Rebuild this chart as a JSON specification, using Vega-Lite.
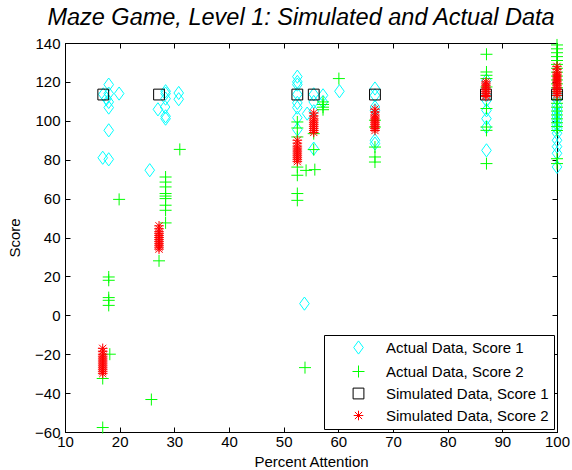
{
  "$schema": "https://vega.github.io/schema/vega-lite/v6.json",
  "width": 492,
  "height": 389,
  "autosize": {"type": "none"},
  "padding": {"left": 65, "top": 43, "right": 15, "bottom": 38},
  "background": "white",
  "title": {
    "text": "Maze Game, Level 1: Simulated and Actual Data",
    "font": "Liberation Sans",
    "fontSize": 23.5,
    "fontStyle": "italic",
    "fontWeight": "normal",
    "color": "black",
    "anchor": "middle",
    "dx": -10,
    "offset": 7
  },
  "config": {
    "view": {"stroke": "black", "strokeWidth": 1},
    "axis": {
      "grid": false,
      "domainColor": "black",
      "tickColor": "black",
      "tickSize": -5,
      "labelColor": "black",
      "labelFont": "Liberation Sans",
      "labelFontSize": 15,
      "titleFont": "Liberation Sans",
      "titleFontSize": 15,
      "titleFontWeight": "normal",
      "titleColor": "black",
      "labelFlush": false,
      "labelOverlap": false
    }
  },
  "data": {
    "values": [
      {"attention": 18.0, "score": 118.6, "series": "Actual Data, Score 1"},
      {"attention": 17.0, "score": 113.6, "series": "Actual Data, Score 1"},
      {"attention": 18.0, "score": 114.0, "series": "Actual Data, Score 1"},
      {"attention": 19.9, "score": 114.0, "series": "Actual Data, Score 1"},
      {"attention": 17.6, "score": 111.4, "series": "Actual Data, Score 1"},
      {"attention": 18.0, "score": 109.7, "series": "Actual Data, Score 1"},
      {"attention": 18.0, "score": 106.8, "series": "Actual Data, Score 1"},
      {"attention": 18.0, "score": 95.1, "series": "Actual Data, Score 1"},
      {"attention": 16.9, "score": 81.0, "series": "Actual Data, Score 1"},
      {"attention": 18.0, "score": 80.2, "series": "Actual Data, Score 1"},
      {"attention": 25.5, "score": 74.6, "series": "Actual Data, Score 1"},
      {"attention": 28.4, "score": 115.2, "series": "Actual Data, Score 1"},
      {"attention": 28.4, "score": 114.0, "series": "Actual Data, Score 1"},
      {"attention": 28.4, "score": 111.4, "series": "Actual Data, Score 1"},
      {"attention": 28.3, "score": 107.1, "series": "Actual Data, Score 1"},
      {"attention": 27.0, "score": 105.9, "series": "Actual Data, Score 1"},
      {"attention": 28.4, "score": 102.3, "series": "Actual Data, Score 1"},
      {"attention": 28.4, "score": 101.1, "series": "Actual Data, Score 1"},
      {"attention": 30.8, "score": 114.3, "series": "Actual Data, Score 1"},
      {"attention": 30.8, "score": 111.1, "series": "Actual Data, Score 1"},
      {"attention": 52.5, "score": 122.7, "series": "Actual Data, Score 1"},
      {"attention": 52.5, "score": 120.0, "series": "Actual Data, Score 1"},
      {"attention": 52.5, "score": 118.6, "series": "Actual Data, Score 1"},
      {"attention": 52.5, "score": 113.6, "series": "Actual Data, Score 1"},
      {"attention": 52.5, "score": 109.2, "series": "Actual Data, Score 1"},
      {"attention": 52.5, "score": 106.8, "series": "Actual Data, Score 1"},
      {"attention": 52.5, "score": 101.6, "series": "Actual Data, Score 1"},
      {"attention": 52.5, "score": 95.5, "series": "Actual Data, Score 1"},
      {"attention": 55.5, "score": 113.6, "series": "Actual Data, Score 1"},
      {"attention": 55.5, "score": 109.7, "series": "Actual Data, Score 1"},
      {"attention": 55.5, "score": 104.9, "series": "Actual Data, Score 1"},
      {"attention": 55.5, "score": 85.7, "series": "Actual Data, Score 1"},
      {"attention": 54.3, "score": 103.7, "series": "Actual Data, Score 1"},
      {"attention": 57.2, "score": 113.1, "series": "Actual Data, Score 1"},
      {"attention": 57.2, "score": 109.7, "series": "Actual Data, Score 1"},
      {"attention": 60.2, "score": 115.2, "series": "Actual Data, Score 1"},
      {"attention": 53.8, "score": 6.0, "series": "Actual Data, Score 1"},
      {"attention": 66.7, "score": 116.6, "series": "Actual Data, Score 1"},
      {"attention": 66.7, "score": 113.1, "series": "Actual Data, Score 1"},
      {"attention": 66.7, "score": 107.1, "series": "Actual Data, Score 1"},
      {"attention": 66.7, "score": 105.4, "series": "Actual Data, Score 1"},
      {"attention": 66.7, "score": 90.0, "series": "Actual Data, Score 1"},
      {"attention": 66.7, "score": 88.3, "series": "Actual Data, Score 1"},
      {"attention": 87.1, "score": 120.8, "series": "Actual Data, Score 1"},
      {"attention": 87.1, "score": 113.1, "series": "Actual Data, Score 1"},
      {"attention": 87.1, "score": 110.5, "series": "Actual Data, Score 1"},
      {"attention": 87.1, "score": 105.4, "series": "Actual Data, Score 1"},
      {"attention": 87.1, "score": 101.1, "series": "Actual Data, Score 1"},
      {"attention": 87.1, "score": 96.8, "series": "Actual Data, Score 1"},
      {"attention": 87.1, "score": 84.8, "series": "Actual Data, Score 1"},
      {"attention": 100, "score": 114.0, "series": "Actual Data, Score 1"},
      {"attention": 100, "score": 111.0, "series": "Actual Data, Score 1"},
      {"attention": 100, "score": 108.0, "series": "Actual Data, Score 1"},
      {"attention": 100, "score": 106.0, "series": "Actual Data, Score 1"},
      {"attention": 100, "score": 104.0, "series": "Actual Data, Score 1"},
      {"attention": 100, "score": 102.0, "series": "Actual Data, Score 1"},
      {"attention": 100, "score": 100.0, "series": "Actual Data, Score 1"},
      {"attention": 100, "score": 98.0, "series": "Actual Data, Score 1"},
      {"attention": 100, "score": 96.0, "series": "Actual Data, Score 1"},
      {"attention": 100, "score": 93.6, "series": "Actual Data, Score 1"},
      {"attention": 100, "score": 90.0, "series": "Actual Data, Score 1"},
      {"attention": 100, "score": 86.7, "series": "Actual Data, Score 1"},
      {"attention": 100, "score": 83.3, "series": "Actual Data, Score 1"},
      {"attention": 100, "score": 76.3, "series": "Actual Data, Score 1"},

      {"attention": 18.0, "score": 19.7, "series": "Actual Data, Score 2"},
      {"attention": 18.0, "score": 18.0, "series": "Actual Data, Score 2"},
      {"attention": 18.0, "score": 9.1, "series": "Actual Data, Score 2"},
      {"attention": 18.0, "score": 7.7, "series": "Actual Data, Score 2"},
      {"attention": 18.0, "score": 5.1, "series": "Actual Data, Score 2"},
      {"attention": 18.2, "score": -20.0, "series": "Actual Data, Score 2"},
      {"attention": 16.9, "score": -32.5, "series": "Actual Data, Score 2"},
      {"attention": 16.9, "score": -57.7, "series": "Actual Data, Score 2"},
      {"attention": 25.8, "score": -43.3, "series": "Actual Data, Score 2"},
      {"attention": 19.9, "score": 59.6, "series": "Actual Data, Score 2"},
      {"attention": 28.4, "score": 71.1, "series": "Actual Data, Score 2"},
      {"attention": 28.4, "score": 68.5, "series": "Actual Data, Score 2"},
      {"attention": 28.4, "score": 66.0, "series": "Actual Data, Score 2"},
      {"attention": 28.4, "score": 62.6, "series": "Actual Data, Score 2"},
      {"attention": 28.4, "score": 61.3, "series": "Actual Data, Score 2"},
      {"attention": 28.4, "score": 60.0, "series": "Actual Data, Score 2"},
      {"attention": 28.4, "score": 56.6, "series": "Actual Data, Score 2"},
      {"attention": 28.4, "score": 54.0, "series": "Actual Data, Score 2"},
      {"attention": 28.4, "score": 47.5, "series": "Actual Data, Score 2"},
      {"attention": 27.2, "score": 28.0, "series": "Actual Data, Score 2"},
      {"attention": 31.0, "score": 85.3, "series": "Actual Data, Score 2"},
      {"attention": 52.5, "score": 99.4, "series": "Actual Data, Score 2"},
      {"attention": 52.5, "score": 96.3, "series": "Actual Data, Score 2"},
      {"attention": 52.5, "score": 91.7, "series": "Actual Data, Score 2"},
      {"attention": 52.5, "score": 76.2, "series": "Actual Data, Score 2"},
      {"attention": 52.5, "score": 72.0, "series": "Actual Data, Score 2"},
      {"attention": 52.5, "score": 62.6, "series": "Actual Data, Score 2"},
      {"attention": 52.5, "score": 59.1, "series": "Actual Data, Score 2"},
      {"attention": 55.5, "score": 93.4, "series": "Actual Data, Score 2"},
      {"attention": 55.5, "score": 85.2, "series": "Actual Data, Score 2"},
      {"attention": 54.1, "score": 74.5, "series": "Actual Data, Score 2"},
      {"attention": 55.7, "score": 74.9, "series": "Actual Data, Score 2"},
      {"attention": 53.9, "score": -26.9, "series": "Actual Data, Score 2"},
      {"attention": 57.2, "score": 109.7, "series": "Actual Data, Score 2"},
      {"attention": 57.2, "score": 108.4, "series": "Actual Data, Score 2"},
      {"attention": 57.2, "score": 107.0, "series": "Actual Data, Score 2"},
      {"attention": 57.2, "score": 105.7, "series": "Actual Data, Score 2"},
      {"attention": 60.1, "score": 121.7, "series": "Actual Data, Score 2"},
      {"attention": 66.7, "score": 100.3, "series": "Actual Data, Score 2"},
      {"attention": 66.7, "score": 96.8, "series": "Actual Data, Score 2"},
      {"attention": 66.7, "score": 86.5, "series": "Actual Data, Score 2"},
      {"attention": 66.7, "score": 81.4, "series": "Actual Data, Score 2"},
      {"attention": 66.7, "score": 78.8, "series": "Actual Data, Score 2"},
      {"attention": 87.1, "score": 134.2, "series": "Actual Data, Score 2"},
      {"attention": 87.1, "score": 125.1, "series": "Actual Data, Score 2"},
      {"attention": 87.1, "score": 123.4, "series": "Actual Data, Score 2"},
      {"attention": 87.1, "score": 121.7, "series": "Actual Data, Score 2"},
      {"attention": 87.1, "score": 117.4, "series": "Actual Data, Score 2"},
      {"attention": 87.1, "score": 106.3, "series": "Actual Data, Score 2"},
      {"attention": 87.1, "score": 96.8, "series": "Actual Data, Score 2"},
      {"attention": 87.1, "score": 95.1, "series": "Actual Data, Score 2"},
      {"attention": 87.1, "score": 78.0, "series": "Actual Data, Score 2"},
      {"attention": 100, "score": 139.0, "series": "Actual Data, Score 2"},
      {"attention": 100, "score": 137.0, "series": "Actual Data, Score 2"},
      {"attention": 100, "score": 135.0, "series": "Actual Data, Score 2"},
      {"attention": 100, "score": 133.0, "series": "Actual Data, Score 2"},
      {"attention": 100, "score": 131.0, "series": "Actual Data, Score 2"},
      {"attention": 100, "score": 129.0, "series": "Actual Data, Score 2"},
      {"attention": 100, "score": 127.0, "series": "Actual Data, Score 2"},
      {"attention": 100, "score": 125.0, "series": "Actual Data, Score 2"},
      {"attention": 100, "score": 123.0, "series": "Actual Data, Score 2"},
      {"attention": 100, "score": 121.0, "series": "Actual Data, Score 2"},
      {"attention": 100, "score": 119.0, "series": "Actual Data, Score 2"},
      {"attention": 100, "score": 117.0, "series": "Actual Data, Score 2"},
      {"attention": 100, "score": 115.0, "series": "Actual Data, Score 2"},
      {"attention": 100, "score": 113.0, "series": "Actual Data, Score 2"},
      {"attention": 100, "score": 111.0, "series": "Actual Data, Score 2"},
      {"attention": 100, "score": 109.0, "series": "Actual Data, Score 2"},
      {"attention": 100, "score": 107.0, "series": "Actual Data, Score 2"},
      {"attention": 100, "score": 105.0, "series": "Actual Data, Score 2"},
      {"attention": 100, "score": 103.0, "series": "Actual Data, Score 2"},
      {"attention": 100, "score": 101.0, "series": "Actual Data, Score 2"},
      {"attention": 100, "score": 99.0, "series": "Actual Data, Score 2"},
      {"attention": 100, "score": 97.0, "series": "Actual Data, Score 2"},
      {"attention": 100, "score": 95.0, "series": "Actual Data, Score 2"},
      {"attention": 100, "score": 80.5, "series": "Actual Data, Score 2"},
      {"attention": 100, "score": 78.0, "series": "Actual Data, Score 2"},

      {"attention": 17.0, "score": 113.5, "series": "Simulated Data, Score 1"},
      {"attention": 27.2, "score": 113.5, "series": "Simulated Data, Score 1"},
      {"attention": 52.5, "score": 113.5, "series": "Simulated Data, Score 1"},
      {"attention": 55.5, "score": 113.5, "series": "Simulated Data, Score 1"},
      {"attention": 66.7, "score": 113.5, "series": "Simulated Data, Score 1"},
      {"attention": 87.0, "score": 113.5, "series": "Simulated Data, Score 1"},
      {"attention": 100, "score": 113.5, "series": "Simulated Data, Score 1"},

      {"attention": 16.9, "score": -17.0, "series": "Simulated Data, Score 2"},
      {"attention": 16.9, "score": -18.5, "series": "Simulated Data, Score 2"},
      {"attention": 16.9, "score": -20.0, "series": "Simulated Data, Score 2"},
      {"attention": 16.9, "score": -21.0, "series": "Simulated Data, Score 2"},
      {"attention": 16.9, "score": -22.0, "series": "Simulated Data, Score 2"},
      {"attention": 16.9, "score": -23.0, "series": "Simulated Data, Score 2"},
      {"attention": 16.9, "score": -24.0, "series": "Simulated Data, Score 2"},
      {"attention": 16.9, "score": -25.0, "series": "Simulated Data, Score 2"},
      {"attention": 16.9, "score": -26.0, "series": "Simulated Data, Score 2"},
      {"attention": 16.9, "score": -27.0, "series": "Simulated Data, Score 2"},
      {"attention": 16.9, "score": -28.0, "series": "Simulated Data, Score 2"},
      {"attention": 16.9, "score": -29.0, "series": "Simulated Data, Score 2"},
      {"attention": 16.9, "score": -30.0, "series": "Simulated Data, Score 2"},
      {"attention": 27.2, "score": 46.0, "series": "Simulated Data, Score 2"},
      {"attention": 27.2, "score": 44.5, "series": "Simulated Data, Score 2"},
      {"attention": 27.2, "score": 43.0, "series": "Simulated Data, Score 2"},
      {"attention": 27.2, "score": 42.0, "series": "Simulated Data, Score 2"},
      {"attention": 27.2, "score": 41.0, "series": "Simulated Data, Score 2"},
      {"attention": 27.2, "score": 40.0, "series": "Simulated Data, Score 2"},
      {"attention": 27.2, "score": 39.0, "series": "Simulated Data, Score 2"},
      {"attention": 27.2, "score": 38.0, "series": "Simulated Data, Score 2"},
      {"attention": 27.2, "score": 37.0, "series": "Simulated Data, Score 2"},
      {"attention": 27.2, "score": 36.0, "series": "Simulated Data, Score 2"},
      {"attention": 27.2, "score": 35.0, "series": "Simulated Data, Score 2"},
      {"attention": 27.2, "score": 34.0, "series": "Simulated Data, Score 2"},
      {"attention": 52.5, "score": 90.0, "series": "Simulated Data, Score 2"},
      {"attention": 52.5, "score": 88.5, "series": "Simulated Data, Score 2"},
      {"attention": 52.5, "score": 87.0, "series": "Simulated Data, Score 2"},
      {"attention": 52.5, "score": 86.0, "series": "Simulated Data, Score 2"},
      {"attention": 52.5, "score": 85.0, "series": "Simulated Data, Score 2"},
      {"attention": 52.5, "score": 84.0, "series": "Simulated Data, Score 2"},
      {"attention": 52.5, "score": 83.0, "series": "Simulated Data, Score 2"},
      {"attention": 52.5, "score": 82.0, "series": "Simulated Data, Score 2"},
      {"attention": 52.5, "score": 81.0, "series": "Simulated Data, Score 2"},
      {"attention": 52.5, "score": 80.0, "series": "Simulated Data, Score 2"},
      {"attention": 52.5, "score": 79.0, "series": "Simulated Data, Score 2"},
      {"attention": 55.5, "score": 104.0, "series": "Simulated Data, Score 2"},
      {"attention": 55.5, "score": 102.5, "series": "Simulated Data, Score 2"},
      {"attention": 55.5, "score": 101.0, "series": "Simulated Data, Score 2"},
      {"attention": 55.5, "score": 100.0, "series": "Simulated Data, Score 2"},
      {"attention": 55.5, "score": 99.0, "series": "Simulated Data, Score 2"},
      {"attention": 55.5, "score": 98.0, "series": "Simulated Data, Score 2"},
      {"attention": 55.5, "score": 97.0, "series": "Simulated Data, Score 2"},
      {"attention": 55.5, "score": 96.0, "series": "Simulated Data, Score 2"},
      {"attention": 55.5, "score": 95.0, "series": "Simulated Data, Score 2"},
      {"attention": 55.5, "score": 94.0, "series": "Simulated Data, Score 2"},
      {"attention": 66.7, "score": 106.0, "series": "Simulated Data, Score 2"},
      {"attention": 66.7, "score": 104.5, "series": "Simulated Data, Score 2"},
      {"attention": 66.7, "score": 103.0, "series": "Simulated Data, Score 2"},
      {"attention": 66.7, "score": 102.0, "series": "Simulated Data, Score 2"},
      {"attention": 66.7, "score": 101.0, "series": "Simulated Data, Score 2"},
      {"attention": 66.7, "score": 100.0, "series": "Simulated Data, Score 2"},
      {"attention": 66.7, "score": 99.0, "series": "Simulated Data, Score 2"},
      {"attention": 66.7, "score": 98.0, "series": "Simulated Data, Score 2"},
      {"attention": 66.7, "score": 97.0, "series": "Simulated Data, Score 2"},
      {"attention": 66.7, "score": 96.0, "series": "Simulated Data, Score 2"},
      {"attention": 66.7, "score": 95.0, "series": "Simulated Data, Score 2"},
      {"attention": 87.0, "score": 120.0, "series": "Simulated Data, Score 2"},
      {"attention": 87.0, "score": 119.0, "series": "Simulated Data, Score 2"},
      {"attention": 87.0, "score": 118.0, "series": "Simulated Data, Score 2"},
      {"attention": 87.0, "score": 117.0, "series": "Simulated Data, Score 2"},
      {"attention": 87.0, "score": 116.0, "series": "Simulated Data, Score 2"},
      {"attention": 87.0, "score": 115.0, "series": "Simulated Data, Score 2"},
      {"attention": 87.0, "score": 114.0, "series": "Simulated Data, Score 2"},
      {"attention": 87.0, "score": 113.0, "series": "Simulated Data, Score 2"},
      {"attention": 87.0, "score": 112.5, "series": "Simulated Data, Score 2"},
      {"attention": 100, "score": 128.0, "series": "Simulated Data, Score 2"},
      {"attention": 100, "score": 126.5, "series": "Simulated Data, Score 2"},
      {"attention": 100, "score": 125.0, "series": "Simulated Data, Score 2"},
      {"attention": 100, "score": 124.0, "series": "Simulated Data, Score 2"},
      {"attention": 100, "score": 123.0, "series": "Simulated Data, Score 2"},
      {"attention": 100, "score": 122.0, "series": "Simulated Data, Score 2"},
      {"attention": 100, "score": 121.0, "series": "Simulated Data, Score 2"},
      {"attention": 100, "score": 120.0, "series": "Simulated Data, Score 2"},
      {"attention": 100, "score": 119.0, "series": "Simulated Data, Score 2"},
      {"attention": 100, "score": 118.0, "series": "Simulated Data, Score 2"},
      {"attention": 100, "score": 117.0, "series": "Simulated Data, Score 2"},
      {"attention": 100, "score": 116.0, "series": "Simulated Data, Score 2"},
      {"attention": 100, "score": 115.0, "series": "Simulated Data, Score 2"},
      {"attention": 100, "score": 114.0, "series": "Simulated Data, Score 2"},
      {"attention": 100, "score": 113.0, "series": "Simulated Data, Score 2"}
    ]
  },
  "layer": [
    {
      "mark": {"type": "point", "filled": false, "size": 144, "strokeWidth": 1, "opacity": 1},
      "encoding": {
        "x": {
          "field": "attention",
          "type": "quantitative",
          "scale": {"domain": [10, 100], "nice": false, "zero": false},
          "axis": {
            "orient": "bottom",
            "values": [10, 20, 30, 40, 50, 60, 70, 80, 90, 100],
            "title": "Percent Attention",
            "labelPadding": 7,
            "titlePadding": 5
          }
        },
        "y": {
          "field": "score",
          "type": "quantitative",
          "scale": {"domain": [-60, 140], "nice": false, "zero": false},
          "axis": {
            "orient": "left",
            "values": [-60, -40, -20, 0, 20, 40, 60, 80, 100, 120, 140],
            "title": "Score",
            "labelPadding": 10,
            "titlePadding": 12
          }
        },
        "color": {
          "field": "series",
          "type": "nominal",
          "scale": {
            "domain": ["Actual Data, Score 1", "Actual Data, Score 2", "Simulated Data, Score 1", "Simulated Data, Score 2"],
            "range": ["#00ffff", "#00ff00", "#000000", "#ff0000"]
          },
          "legend": {
            "title": null,
            "orient": "none",
            "legendX": 259,
            "legendY": 292,
            "strokeColor": "black",
            "fillColor": "white",
            "padding": 5,
            "symbolOffset": 22,
            "symbolSize": 144,
            "symbolStrokeWidth": 1,
            "labelFont": "Liberation Sans",
            "labelFontSize": 15,
            "labelColor": "black",
            "labelOffset": 20,
            "labelLimit": 400,
            "rowPadding": 6
          }
        },
        "shape": {
          "field": "series",
          "type": "nominal",
          "scale": {
            "domain": ["Actual Data, Score 1", "Actual Data, Score 2", "Simulated Data, Score 1", "Simulated Data, Score 2"],
            "range": [
              "M0,-1.1L0.8,0L0,1.1L-0.8,0Z",
              "M-1,0L1,0M0,-1L0,1",
              "M-0.9,-0.9L0.9,-0.9L0.9,0.9L-0.9,0.9Z",
              "M-0.8,0L0.8,0M0,-0.8L0,0.8M-0.6,-0.6L0.6,0.6M-0.6,0.6L0.6,-0.6"
            ]
          },
          "legend": {"title": null}
        }
      }
    },
    {
      "mark": {"type": "point", "opacity": 0},
      "encoding": {
        "x": {
          "field": "attention",
          "type": "quantitative",
          "axis": {"orient": "top", "values": [10, 20, 30, 40, 50, 60, 70, 80, 90, 100], "labels": false, "title": null}
        },
        "y": {
          "field": "score",
          "type": "quantitative",
          "axis": {"orient": "right", "values": [-60, -40, -20, 0, 20, 40, 60, 80, 100, 120, 140], "labels": false, "title": null}
        }
      }
    }
  ],
  "resolve": {"axis": {"x": "independent", "y": "independent"}}
}
